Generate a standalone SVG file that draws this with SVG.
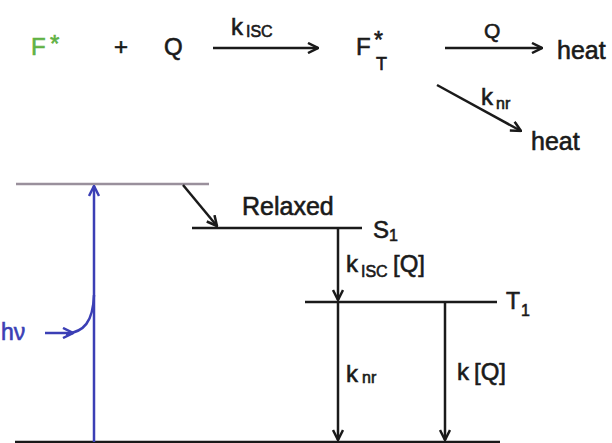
<svg xmlns="http://www.w3.org/2000/svg" width="612" height="443" viewBox="0 0 612 443">
<defs>
<style>
text{font-family:"Liberation Sans","DejaVu Sans",sans-serif;fill:#1a1a1a;stroke:#1a1a1a;stroke-width:0.6}
.t{font-size:24px}
.s{font-size:16px}
.g{fill:#5fb244;stroke:#5fb244}
.b{fill:#3b3fb5;stroke:#3b3fb5}
.ln{stroke:#1a1a1a;stroke-width:2.5;fill:none}
.bl{stroke:#3b3fb5;stroke-width:2.5;fill:none}
</style>
<marker id="ah" viewBox="0 0 12 12" refX="11" refY="6" markerWidth="12" markerHeight="12" markerUnits="userSpaceOnUse" orient="auto">
<path d="M1,1 L11,6 L1,11" fill="none" stroke="#1a1a1a" stroke-width="2.5"/>
</marker>
<marker id="ahb" viewBox="0 0 12 12" refX="11" refY="6" markerWidth="12" markerHeight="12" markerUnits="userSpaceOnUse" orient="auto">
<path d="M1,1 L11,6 L1,11" fill="none" stroke="#3b3fb5" stroke-width="2.5"/>
</marker>
</defs>
<rect width="612" height="443" fill="#ffffff"/>
<g id="reaction">
<g id="fstar"><text x="31" y="55" class="t g">F</text><text x="50" y="52" class="g" style="font-size:24px">*</text></g>
<g id="plus"><text x="114" y="55" class="t">+</text></g>
<g id="q"><text x="164" y="55" class="t">Q</text></g>
<g id="kisc"><text x="231" y="35" class="t">k</text><text x="246" y="37" class="s">ISC</text></g>
<g id="ft"><text x="356" y="55" class="t">F</text><text x="374" y="48" style="font-size:23px">*</text><text x="376" y="70" style="font-size:18px">T</text></g>
<g id="qlab"><text x="484" y="38" style="font-size:21px">Q</text></g>
<g id="heat1"><text x="557" y="59" style="font-size:25px">heat</text></g>
<g id="knr1"><text x="481" y="105" class="t">k</text><text x="496" y="109" class="s">nr</text></g>
<g id="heat2"><text x="531" y="150" style="font-size:25px">heat</text></g>
</g>
<g id="levels">
<g id="excited"><line x1="16" y1="184" x2="209" y2="184" stroke="#9a909c" stroke-width="2.5"/></g>
<g id="relaxed"><line x1="192" y1="228" x2="362" y2="228" class="ln"/><text x="242" y="215" style="font-size:25px">Relaxed</text><text x="373" y="238" class="t">S</text><text x="389" y="241" class="s">1</text></g>
<g id="triplet"><line x1="305" y1="302" x2="497" y2="302" class="ln"/><text x="506" y="309" style="font-size:23px">T</text><text x="521" y="316" class="s">1</text></g>
<g id="ground"><line x1="15" y1="442" x2="500" y2="442" class="ln"/></g>
<g id="hv"><text x="1" y="340" class="b" style="font-size:23px">hν</text></g>
<g id="lab1"><text x="346" y="272" class="t">k</text><text x="361" y="277" class="s">ISC</text><text x="393" y="272" class="t">[Q]</text></g>
<g id="lab2"><text x="346" y="382" class="t">k</text><text x="362" y="383" class="s">nr</text></g>
<g id="lab3"><text x="457" y="380" class="t">k</text><text x="474" y="380" class="t">[Q]</text></g>
</g>
<g id="connectors">
<line x1="213" y1="48" x2="318" y2="48" class="ln" marker-end="url(#ah)"/>
<line x1="445" y1="48" x2="542" y2="48" class="ln" marker-end="url(#ah)"/>
<line x1="437" y1="85" x2="521" y2="131" class="ln" marker-end="url(#ah)"/>
<line x1="183" y1="185" x2="217" y2="226" class="ln" marker-end="url(#ah)"/>
<line x1="338" y1="228" x2="338" y2="300" class="ln" marker-end="url(#ah)"/>
<line x1="338" y1="302" x2="338" y2="440" class="ln" marker-end="url(#ah)"/>
<line x1="445" y1="302" x2="445" y2="440" class="ln" marker-end="url(#ah)"/>
<line x1="94" y1="442" x2="94" y2="186" class="bl" marker-end="url(#ahb)"/>
<line x1="45" y1="333" x2="73" y2="333" class="bl" marker-end="url(#ahb)"/>
<path d="M66,334 C84,332 93,322 94,295" class="bl"/>
</g>
</svg>
